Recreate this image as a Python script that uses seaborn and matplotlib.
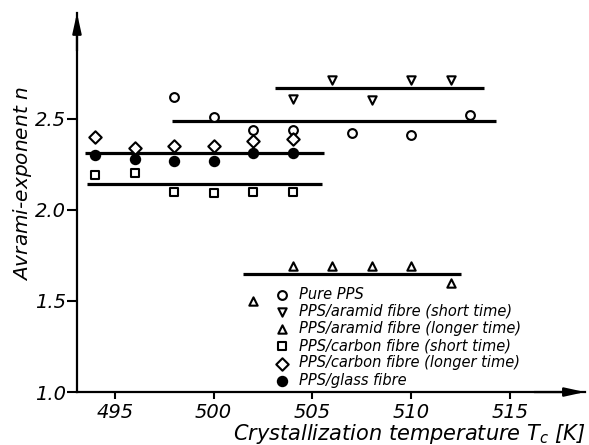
import pandas as pd
import matplotlib
matplotlib.use('Agg')
import matplotlib.pyplot as plt
import seaborn as sns

# Avrami exponent n vs crystallization temperature Tc

pure_T = [498, 500, 502, 504, 507, 510, 513]
pure_n = [2.62, 2.51, 2.44, 2.44, 2.42, 2.41, 2.52]

aramid_short_T = [504, 506, 508, 510, 512]
aramid_short_n = [2.61, 2.71, 2.60, 2.71, 2.71]

aramid_long_T = [502, 504, 506, 508, 510, 512]
aramid_long_n = [1.50, 1.69, 1.69, 1.69, 1.69, 1.60]

carbon_short_T = [494, 496, 498, 500, 502, 504]
carbon_short_n = [2.19, 2.20, 2.10, 2.09, 2.10, 2.10]

carbon_long_T = [494, 496, 498, 500, 502, 504]
carbon_long_n = [2.40, 2.34, 2.35, 2.35, 2.38, 2.39]

glass_T = [494, 496, 498, 500, 502, 504]
glass_n = [2.30, 2.28, 2.27, 2.27, 2.31, 2.31]

# mean value lines (level, from, to)
fit_n = [2.485, 2.67, 1.65, 2.14, 2.31]
fit_T0 = [497.9, 503.1, 501.5, 493.6, 493.5]
fit_T1 = [514.3, 513.7, 512.5, 505.5, 505.6]

x_ticks = [495, 500, 505, 510, 515]
y_ticks = [1.0, 1.5, 2.0, 2.5]

sns.set_style('ticks')
plt.rcParams['font.family'] = ['DejaVu Sans']
plt.rcParams['font.style'] = 'italic'
plt.rcParams['mathtext.fontset'] = 'dejavusans'
for k in ['text.color', 'axes.labelcolor', 'xtick.color', 'ytick.color', 'axes.edgecolor']:
    plt.rcParams[k] = 'black'

fig = plt.figure(figsize=(5.89, 4.45), dpi=100)
ax = fig.add_axes([0.1307, 0.119, 0.8625, 0.852])

ax.hlines(fit_n, fit_T0, fit_T1, color='black', lw=2.3, zorder=2)

series = [
    ('Pure PPS', pure_T, pure_n, 'o', 'white', 40),
    ('PPS/aramid fibre (short time)', aramid_short_T, aramid_short_n, 'v', 'white', 36),
    ('PPS/aramid fibre (longer time)', aramid_long_T, aramid_long_n, '^', 'white', 36),
    ('PPS/carbon fibre (short time)', carbon_short_T, carbon_short_n, 's', 'white', 36),
    ('PPS/carbon fibre (longer time)', carbon_long_T, carbon_long_n, 'D', 'white', 40),
    ('PPS/glass fibre', glass_T, glass_n, 'o', 'black', 45),
]
for name, T, n, m, fc, s in series:
    df = pd.DataFrame({'T': T, 'n': n})
    sns.scatterplot(data=df, x='T', y='n', ax=ax, marker=m, s=s,
                    facecolor=fc, edgecolor='black', linewidth=1.5,
                    label=name, zorder=3, clip_on=False)

ax.set_xlim(493.08, 518.8)
ax.set_ylim(1.0, 3.08)
ax.set_xticks(x_ticks)
ax.set_xticklabels([str(t) for t in x_ticks])
ax.set_yticks(y_ticks)
ax.set_yticklabels([f'{t:.1f}' for t in y_ticks])
ax.tick_params(axis='x', direction='out', length=5, width=1.5, pad=3, labelsize=14)
ax.tick_params(axis='y', direction='out', length=7, width=1.5, pad=1, labelsize=14)

sns.despine(ax=ax)
for sp in ['left', 'bottom']:
    ax.spines[sp].set_linewidth(1.6)

# arrow heads on the axes
arrow = dict(arrowstyle='-|>,head_length=1.0,head_width=0.22', color='black',
             lw=1.6, mutation_scale=12, shrinkA=0, shrinkB=0)
ax.annotate('', xy=(0, 1), xytext=(0, 0.9), xycoords='axes fraction', arrowprops=arrow)
ax.annotate('', xy=(1, 0), xytext=(0.9, 0), xycoords='axes fraction', arrowprops=arrow)

ax.set_xlabel('Crystallization temperature $T_c$ [K]', fontsize=15, loc='right', labelpad=0)
ax.set_ylabel('Avrami-exponent $n$', fontsize=14.5, va='center')
ax.yaxis.set_label_coords(-0.108, 0.551)

ax.legend(loc='upper left', bbox_to_anchor=(0.389, 0.278), frameon=False,
          fontsize=10.5, borderpad=0, borderaxespad=0, labelspacing=0.15,
          handlelength=1.0, handletextpad=0.7)

fig.savefig('out.png', dpi=100)
